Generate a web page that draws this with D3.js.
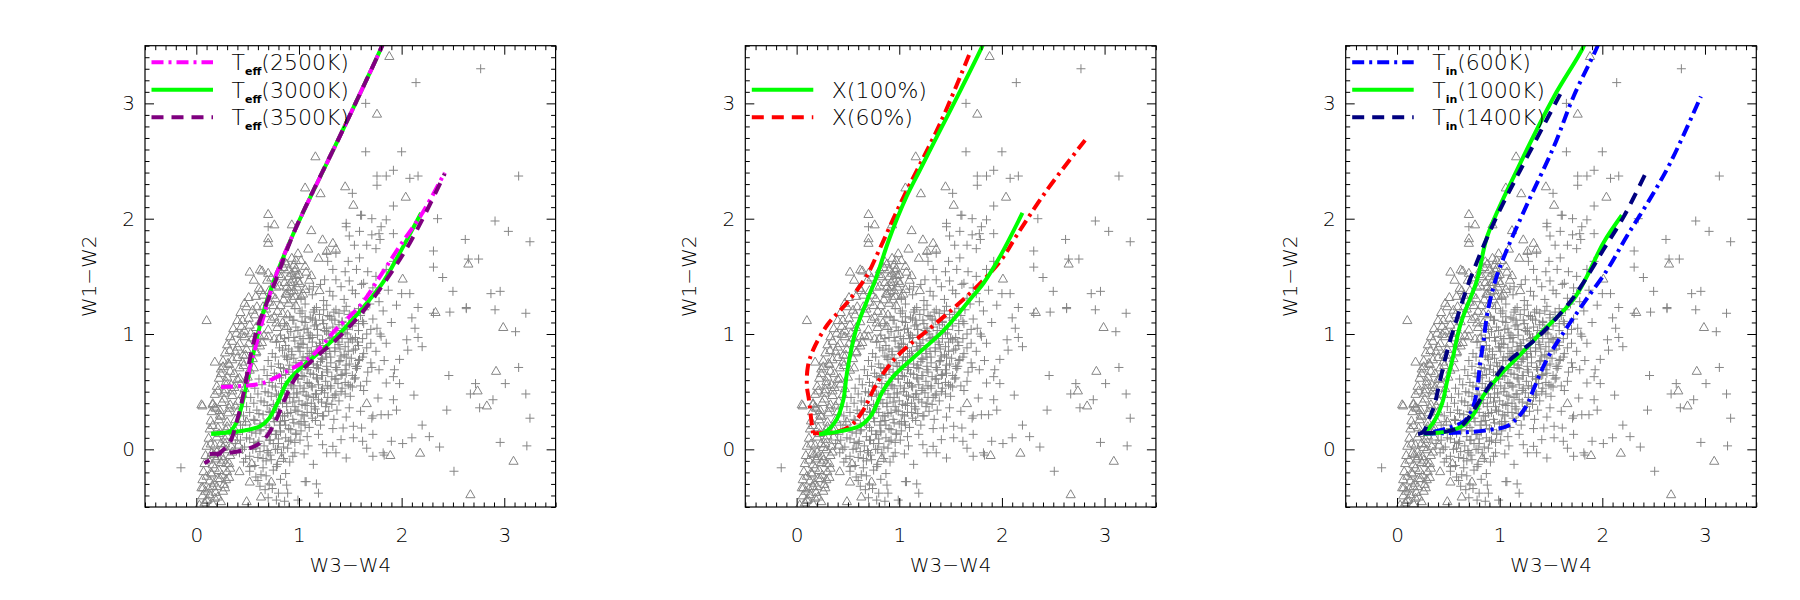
<!DOCTYPE html>
<html>
<head>
<meta charset="utf-8">
<script src="https://cdn.jsdelivr.net/npm/d3@7"></script>
<style>
  body { margin: 0; background: #fff; }
  svg { display: block; }
  text { font-family: "DejaVu Sans", sans-serif; font-weight: 200; fill: #000; }
</style>
</head>
<body>
<script>
/**
 * DATA
 */
const majorTicks = [0, 1, 2, 3];
const xLabel = "W3\u2212W4";
const yLabel = "W1\u2212W2";

// scatter: "+" sources
const plusSparse = [
  [2.77,3.30],[2.14,3.18],[1.65,3.00],[1.65,2.58],[2.00,2.58],[1.76,2.37],[1.85,2.37],[1.92,2.42],[1.76,2.29],
  [2.08,2.35],[2.16,2.37],[3.14,2.37],[1.52,2.22],[1.60,2.03],[1.71,2.00],[1.85,1.99],[1.80,1.93],[1.78,1.87],
  [2.35,2.00],[0.70,1.93],[1.46,1.93],[2.91,1.98],[3.04,1.89],[2.62,1.82],[2.31,1.72],[2.31,1.58],[2.40,1.49],
  [2.75,1.65],[2.65,1.65],[3.25,1.80],[2.50,1.37],[2.08,1.35],[2.00,1.35],[2.87,1.35],[2.96,1.37],[2.63,1.23],
  [2.16,1.23],[2.47,1.19],[3.21,1.18],[2.10,1.14],[2.31,1.18],[2.63,1.22],[2.91,1.21],[2.13,1.05],[2.16,0.97],
  [3.11,1.02],[2.05,0.95],[2.06,0.86],[2.20,0.89],[3.14,0.71],[2.46,0.64],[2.72,0.57],[3.01,0.57],[2.67,0.48],
  [3.21,0.48],[2.12,0.47],[2.76,0.36],[2.89,0.43],[2.44,0.34],[3.25,0.27],[2.20,0.21],[2.01,0.05],[2.10,0.10],
  [2.27,0.11],[2.37,0.02],[2.96,0.06],[3.22,0.03],[2.51,-0.19],[1.83,-0.05],[1.72,-0.06],[-0.15,-0.16],[0.89,-0.38],
  [0.99,-0.44],[1.07,-0.28],[1.17,-0.30],[1.19,-0.38],[1.92,0.63],[1.85,0.575],[1.77,0.445],[1.71,0.27],[1.87,0.30],
  [1.62,0.07],[1.53,0.10],[1.41,0.084],[1.33,0.026],[1.23,0.04],[1.14,-0.13],[1.06,-0.28],[1.82,-0.03],[1.90,0.07],
  [1.36,-0.03],[1.46,-0.075],[0.96,-0.03],[0.88,-0.31],[0.78,-0.44],[1.61,2.03],[1.92,2.11],[1.46,1.96],[1.59,1.89],
  [1.49,1.85],[1.71,1.86],[1.79,1.82],[1.92,1.87],[1.54,1.77],[1.66,1.77],[1.75,1.74],[1.27,1.70],[1.36,1.70],
  [1.28,1.63],[1.48,1.63],[1.59,1.66],[1.33,1.56],[1.45,1.54],[1.56,1.56],[1.67,1.54],[1.75,1.50],[1.85,1.56],
  [1.92,1.63],[1.25,1.47],[1.36,1.47],[1.49,1.46],[1.61,1.43],[1.87,1.38],[1.75,1.35],[1.14,1.41],[1.15,1.21],
  [1.79,1.00],[1.85,0.92],[1.93,0.69],[1.98,0.57],[1.92,0.43],[1.72,0.29],[1.80,0.30],[1.95,0.34],[1.72,0.13],
  [1.66,0.01],[1.95,1.25],[1.90,1.10],[1.98,0.78],[1.53,0.20],[1.43,0.185],[1.61,0.185],[1.27,-0.03]
];

const plusCore = [
  [1.10,1.39],[1.21,1.43],[1.30,1.37],[1.41,1.41],[1.52,1.38],[1.63,1.44],[1.72,1.40],
  [1.02,1.31],[1.13,1.34],[1.24,1.29],[1.33,1.33],[1.44,1.30],[1.55,1.35],[1.66,1.31],[1.78,1.28],
  [0.96,1.22],[1.06,1.26],[1.17,1.23],[1.27,1.25],[1.36,1.21],[1.46,1.24],[1.58,1.22],[1.69,1.26],[1.82,1.20],
  [0.91,1.15],[1.01,1.18],[1.11,1.14],[1.20,1.17],[1.30,1.15],[1.39,1.18],[1.49,1.14],[1.60,1.16],[1.72,1.13],
  [0.86,1.09],[0.97,1.06],[1.06,1.10],[1.15,1.07],[1.24,1.09],[1.33,1.06],[1.42,1.10],[1.52,1.07],[1.63,1.09],[1.76,1.05],
  [0.82,0.99],[0.92,1.02],[1.01,0.98],[1.09,1.01],[1.18,0.99],[1.27,1.02],[1.36,0.98],[1.45,1.01],[1.55,0.97],[1.66,1.00],[1.80,0.98],
  [0.78,0.93],[0.87,0.90],[0.96,0.94],[1.04,0.91],[1.13,0.93],[1.21,0.90],[1.30,0.94],[1.39,0.91],[1.48,0.93],[1.58,0.90],[1.70,0.92],
  [0.74,0.83],[0.84,0.86],[0.93,0.82],[1.01,0.85],[1.10,0.83],[1.18,0.86],[1.26,0.83],[1.35,0.85],[1.44,0.82],[1.53,0.86],[1.63,0.83],[1.75,0.85],
  [0.70,0.77],[0.80,0.74],[0.89,0.78],[0.97,0.75],[1.06,0.77],[1.14,0.74],[1.23,0.78],[1.31,0.75],[1.40,0.77],[1.49,0.74],[1.59,0.78],[1.70,0.75],[1.83,0.77],
  [0.66,0.69],[0.76,0.66],[0.85,0.70],[0.94,0.67],[1.02,0.69],[1.11,0.66],[1.19,0.70],[1.28,0.67],[1.37,0.69],[1.46,0.66],[1.56,0.70],[1.67,0.67],[1.78,0.69],
  [0.61,0.61],[0.71,0.58],[0.81,0.62],[0.90,0.59],[0.99,0.61],[1.08,0.58],[1.17,0.62],[1.26,0.59],[1.35,0.61],[1.45,0.58],[1.55,0.62],[1.66,0.59],
  [0.57,0.53],[0.67,0.50],[0.77,0.54],[0.86,0.51],[0.95,0.53],[1.04,0.50],[1.13,0.54],[1.22,0.51],[1.31,0.53],[1.41,0.50],[1.52,0.54],[1.63,0.51],
  [0.53,0.45],[0.63,0.42],[0.73,0.46],[0.82,0.43],[0.91,0.45],[1.00,0.42],[1.09,0.46],[1.19,0.43],[1.28,0.45],[1.39,0.42],[1.50,0.46],
  [0.49,0.37],[0.59,0.34],[0.69,0.38],[0.78,0.35],[0.88,0.37],[0.97,0.34],[1.06,0.38],[1.16,0.35],[1.26,0.37],[1.37,0.34],[1.49,0.36],[1.60,0.33],
  [0.46,0.29],[0.56,0.26],[0.65,0.30],[0.75,0.27],[0.84,0.29],[0.94,0.26],[1.03,0.30],[1.13,0.27],[1.23,0.29],[1.34,0.26],[1.46,0.28],
  [0.43,0.21],[0.52,0.18],[0.62,0.22],[0.71,0.19],[0.81,0.21],[0.90,0.18],[1.00,0.22],[1.10,0.19],[1.21,0.21],[1.33,0.18],
  [0.40,0.13],[0.49,0.10],[0.58,0.14],[0.68,0.11],[0.77,0.13],[0.87,0.10],[0.97,0.14],[1.08,0.11],[1.19,0.13],
  [0.38,0.05],[0.47,0.02],[0.56,0.06],[0.66,0.03],[0.75,0.05],[0.85,0.02],[0.96,0.06],[1.09,0.03],
  [0.42,-0.03],[0.52,-0.06],[0.62,-0.02],[0.72,-0.05],[0.83,-0.03],[0.94,-0.06],[1.05,-0.04],
  [0.46,-0.11],[0.57,-0.14],[0.68,-0.10],[0.79,-0.13],[0.91,-0.11],
  [0.52,-0.19],[0.63,-0.22],[0.75,-0.18],[0.87,-0.21],[0.60,-0.27],[0.71,-0.30],[0.67,-0.35],[0.80,-0.38],
  [0.95,1.12],[1.05,1.04],[1.16,1.12],[1.25,1.03],[1.35,1.12],[1.44,1.05],[0.90,0.97],[1.00,0.88],[1.10,0.96],
  [1.20,0.87],[1.30,0.96],[1.40,0.87],[1.50,0.96],[0.88,0.80],[0.98,0.72],[1.08,0.80],[1.17,0.71],[1.27,0.80],
  [1.36,0.71],[1.46,0.80],[1.55,0.72],[0.83,0.64],[0.93,0.55],[1.03,0.64],[1.12,0.55],[1.22,0.64],[1.31,0.55],
  [1.41,0.64],[1.50,0.55],[0.78,0.48],[0.88,0.40],[0.98,0.48],[1.08,0.40],[1.17,0.48],[1.27,0.40],[1.36,0.48],
  [0.72,0.32],[0.82,0.24],[0.92,0.32],[1.02,0.24],[1.12,0.32],[0.62,0.16],[0.72,0.08],[0.82,0.16],[0.92,0.08],
  [0.55,0.00],[0.65,-0.08],[0.77,0.00]
];

const plusInner = [
  [1.03,1.20],[1.14,1.19],[1.24,1.21],[1.34,1.19],[1.44,1.20],[1.54,1.19],[1.64,1.21],
  [0.94,1.12],[1.03,1.11],[1.13,1.13],[1.23,1.12],[1.32,1.13],[1.42,1.11],[1.52,1.12],[1.62,1.11],
  [0.89,1.04],[0.99,1.03],[1.08,1.05],[1.18,1.04],[1.27,1.05],[1.37,1.03],[1.47,1.04],[1.58,1.03],[1.70,1.04],
  [0.86,0.96],[0.95,0.97],[1.04,0.96],[1.13,0.97],[1.23,0.95],[1.32,0.97],[1.42,0.96],[1.52,0.95],[1.62,0.96],
  [0.81,0.88],[0.90,0.87],[0.99,0.89],[1.08,0.88],[1.17,0.89],[1.26,0.87],[1.35,0.88],[1.45,0.89],[1.55,0.87],[1.66,0.88],
  [0.77,0.80],[0.86,0.81],[0.95,0.79],[1.04,0.80],[1.13,0.81],[1.22,0.79],[1.31,0.80],[1.41,0.81],[1.51,0.79],[1.62,0.80],
  [0.73,0.72],[0.82,0.71],[0.91,0.73],[1.00,0.72],[1.09,0.71],[1.18,0.73],[1.27,0.72],[1.36,0.71],[1.46,0.73],[1.57,0.72],[1.71,0.71],
  [0.69,0.64],[0.78,0.63],[0.87,0.65],[0.96,0.64],[1.05,0.63],[1.14,0.65],[1.23,0.64],[1.32,0.63],[1.42,0.65],[1.52,0.64],
  [0.64,0.56],[0.74,0.55],[0.83,0.57],[0.92,0.56],[1.01,0.55],[1.10,0.57],[1.19,0.56],[1.28,0.55],[1.38,0.57],[1.48,0.56],[1.60,0.55],
  [0.60,0.48],[0.70,0.49],[0.80,0.47],[0.89,0.48],[0.98,0.49],[1.07,0.47],[1.16,0.48],[1.25,0.49],[1.35,0.47],[1.45,0.48],
  [0.56,0.40],[0.66,0.41],[0.75,0.39],[0.84,0.40],[0.94,0.41],[1.03,0.39],[1.12,0.40],[1.22,0.41],[1.32,0.39],
  [0.52,0.32],[0.61,0.31],[0.71,0.33],[0.80,0.32],[0.89,0.31],[0.99,0.33],[1.08,0.32],[1.18,0.31],[1.29,0.33],
  [0.48,0.24],[0.57,0.25],[0.66,0.23],[0.76,0.24],[0.86,0.25],[0.95,0.23],[1.05,0.24],[1.16,0.25],
  [0.45,0.16],[0.54,0.15],[0.63,0.17],[0.73,0.16],[0.82,0.15],[0.92,0.17],[1.02,0.16],
  [0.43,0.08],[0.52,0.09],[0.61,0.07],[0.71,0.08],[0.80,0.09],[0.90,0.07],[1.01,0.08],
  [0.45,0.00],[0.58,0.01],[0.69,-0.01],[0.79,0.00],[0.89,0.01],
  [0.48,-0.08],[0.60,-0.07],[0.73,-0.09],[0.85,-0.08],[0.52,-0.15],[0.65,-0.16],[0.78,-0.15],[0.58,-0.24],
  [0.68,-0.23],[0.82,-0.26],[0.62,-0.32],[0.74,-0.34],[0.70,-0.42],[0.86,-0.45]
];

// darkest part of the "+" cloud
const plusDense = [
  [1.06,1.15],[1.17,1.08],[1.28,1.16],[1.39,1.08],[1.49,1.17],[1.58,1.09],
  [1.02,0.92],[1.11,0.99],[1.20,0.92],[1.29,1.00],[1.38,0.93],[1.47,1.00],[1.57,0.93],
  [0.93,0.85],[1.03,0.77],[1.12,0.85],[1.21,0.76],[1.30,0.85],[1.39,0.76],[1.48,0.85],[1.58,0.77],
  [0.90,0.69],[0.99,0.61],[1.08,0.69],[1.18,0.61],[1.27,0.69],[1.36,0.61],[1.45,0.69],[1.54,0.61],
  [0.86,0.53],[0.95,0.45],[1.05,0.53],[1.14,0.45],[1.23,0.53],[1.33,0.45],[1.42,0.53],
  [0.77,0.37],[0.86,0.29],[0.96,0.37],[1.05,0.29],[1.15,0.37],[1.24,0.29],
  [0.68,0.21],[0.78,0.13],[0.87,0.21],[0.97,0.13],[1.06,0.21],[0.60,0.05],[0.70,-0.03],[0.80,0.05]
];

// scatter: triangle sources
const triSparse = [
  [1.88,3.41],[1.76,2.91],[1.16,2.54],[1.45,2.28],[1.06,2.27],[1.21,2.22],[1.53,2.12],[2.04,2.19],[0.70,2.04],
  [0.76,1.95],[0.93,1.95],[2.65,1.61],[2.01,1.48],[2.33,1.19],[2.99,1.06],[0.10,1.12],[2.92,0.68],[2.74,0.51],
  [2.83,0.38],[2.18,-0.03],[3.09,-0.10],[2.67,-0.39],[1.89,-0.05],[0.18,0.76],[0.06,0.38],[0.16,0.39],[1.66,0.40],
  [0.63,-0.41],[0.49,-0.45],[0.73,-0.28],[0.52,-0.28],[0.83,-0.075],[1.12,1.90],[0.70,1.83],[1.23,1.82],[1.33,1.79],
  [0.70,1.79],[0.99,1.70],[1.09,1.74],[1.19,1.66],[1.27,1.72],[1.36,1.74],[0.52,1.54],[0.62,1.56],[0.70,1.53],
  [0.81,1.56],[0.93,1.53],[0.97,1.57],[1.06,1.59],[1.12,1.51],[1.20,1.38],[0.78,1.41],[0.88,1.41],[0.96,1.33],
  [1.04,1.35],[0.58,1.33],[0.65,1.24],[0.75,1.25],[0.84,1.18],[0.97,1.25],[0.49,1.24],[0.45,1.12],[0.52,1.08],
  [0.39,1.01],[0.47,0.98],[0.62,0.98],[0.70,0.98],[0.81,0.965],[0.88,1.07],[0.76,1.15],[0.63,1.38],[0.88,1.61],
  [0.97,1.64],[0.585,0.92],[0.42,0.92],[0.31,0.75],[0.26,0.72],[0.34,0.56],[0.28,0.52],[0.42,0.62],[0.05,0.39],
  [0.18,0.37],[0.23,0.30],[0.15,-0.03],[0.24,0.055],[0.19,-0.08],[0.29,-0.12],[0.15,-0.21],[0.23,-0.25],[0.32,-0.24],
  [0.065,-0.33],[0.16,-0.32],[0.26,-0.36],[0.10,-0.44],[0.18,-0.42],[0.455,0.82],[0.585,0.85],[0.325,0.86],[0.41,0.04],
  [0.36,0.16],[0.49,0.24],[0.54,-0.12],[0.42,-0.19],[0.29,0.0]
];

const triCore = [
  [0.86,1.63],[0.95,1.60],[1.02,1.64],[0.64,1.55],[0.80,1.52],[0.90,1.56],[0.98,1.51],[1.07,1.54],
  [0.56,1.47],[0.73,1.49],[0.86,1.45],[0.94,1.48],[1.01,1.44],[1.10,1.47],[0.61,1.40],[0.71,1.38],[0.81,1.42],
  [0.91,1.37],[0.98,1.41],[1.06,1.39],[0.51,1.32],[0.65,1.34],[0.77,1.31],[0.87,1.35],[0.94,1.30],[1.02,1.33],
  [0.47,1.27],[0.59,1.24],[0.71,1.28],[0.82,1.25],[0.90,1.27],[0.43,1.19],[0.55,1.21],[0.67,1.18],[0.79,1.20],
  [0.89,1.17],[0.40,1.12],[0.51,1.14],[0.62,1.11],[0.73,1.13],[0.84,1.10],[0.36,1.05],[0.47,1.03],[0.58,1.06],
  [0.70,1.04],[0.79,1.06],[0.33,0.98],[0.44,1.00],[0.55,0.97],[0.66,0.99],[0.76,0.96],[0.30,0.91],[0.40,0.89],
  [0.51,0.92],[0.62,0.90],[0.28,0.84],[0.38,0.85],[0.48,0.82],[0.58,0.84],[0.26,0.77],[0.35,0.78],[0.45,0.76],
  [0.55,0.79],[0.24,0.70],[0.33,0.68],[0.42,0.71],[0.52,0.69],[0.22,0.62],[0.30,0.63],[0.40,0.61],[0.50,0.63],
  [0.20,0.55],[0.29,0.56],[0.37,0.54],[0.18,0.48],[0.27,0.49],[0.35,0.47],[0.45,0.48],[0.16,0.40],[0.25,0.41],
  [0.33,0.39],[0.15,0.33],[0.23,0.34],[0.31,0.32],[0.40,0.33],[0.14,0.25],[0.22,0.26],[0.30,0.24],[0.13,0.18],
  [0.21,0.19],[0.29,0.17],[0.37,0.18],[0.12,0.10],[0.20,0.11],[0.28,0.09],[0.10,0.03],[0.18,0.04],[0.26,0.02],
  [0.34,0.03],[0.09,-0.05],[0.17,-0.04],[0.25,-0.06],[0.33,-0.05],[0.08,-0.12],[0.16,-0.13],[0.24,-0.11],
  [0.32,-0.12],[0.07,-0.19],[0.14,-0.20],[0.22,-0.18],[0.30,-0.19],[0.06,-0.26],[0.13,-0.27],[0.21,-0.25],
  [0.29,-0.26],[0.05,-0.33],[0.12,-0.34],[0.20,-0.32],[0.28,-0.33],[0.06,-0.40],[0.13,-0.39],[0.21,-0.41],
  [0.08,-0.46],[0.16,-0.47],[0.24,-0.45]
];

const triInner = [
  [0.03,-0.48],[0.11,-0.43],[0.19,-0.37],[0.27,-0.30],[0.09,-0.36],[0.17,-0.29],[0.25,-0.22],[0.33,-0.16],
  [0.10,-0.23],[0.18,-0.16],[0.26,-0.09],[0.35,-0.02],[0.12,-0.09],[0.20,-0.02],[0.28,0.05],[0.36,0.11],
  [0.14,0.05],[0.22,0.14],[0.30,0.20],[0.38,0.26],[0.16,0.21],[0.24,0.29],[0.32,0.36],[0.41,0.42],
  [0.19,0.36],[0.27,0.44],[0.35,0.51],[0.43,0.57],[0.21,0.51],[0.29,0.59],[0.37,0.66],[0.46,0.73],
  [0.24,0.66],[0.32,0.74],[0.40,0.80],[0.49,0.87],[0.35,0.94],[0.44,1.07],[0.53,1.01],[0.57,1.17],
  [0.68,1.22],[0.74,1.34],[0.85,1.30],[0.69,1.47],[0.83,1.50],[0.92,1.45],[0.88,1.35],[0.95,1.38],
  [1.00,1.52],[0.78,1.10],[0.64,0.93],[0.56,0.71],[0.47,0.53],[0.38,0.38],[0.30,0.12],[0.21,-0.06],
  [0.90,1.50],[0.96,1.55],[0.92,1.41],[0.99,1.46],[0.85,1.58],[0.93,1.66]
];

// Panel 1 : Teff models (steep + shallow branch each)
const teff2500Steep = [[1.83,3.55],[1.81,3.50],[1.46,2.83],[0.96,1.90],[0.76,1.47],[0.67,1.20],[0.58,0.90],[0.52,0.70],[0.49,0.56]];
const teff2500Shallow = [[0.24,0.54],[0.455,0.55],[0.65,0.575],[0.91,0.69],[1.14,0.82],[1.36,1.04],[1.60,1.25],[1.79,1.50],[1.98,1.76],[2.21,2.06],[2.42,2.40]];
const teff3000Steep = [[1.83,3.55],[1.81,3.50],[1.46,2.83],[0.96,1.90],[0.76,1.47],[0.67,1.24],[0.57,0.89],[0.50,0.60],[0.44,0.37],[0.39,0.23],[0.325,0.156],[0.22,0.138],[0.146,0.136]];
const teff3000Shallow = [[0.146,0.136],[0.42,0.156],[0.62,0.20],[0.71,0.27],[0.80,0.42],[0.88,0.575],[1.01,0.70],[1.17,0.82],[1.38,0.99],[1.69,1.30],[1.82,1.45],[1.98,1.70],[2.19,2.05]];
const teff3500Steep = [[1.83,3.55],[1.81,3.50],[1.46,2.83],[0.96,1.90],[0.75,1.41],[0.62,1.12],[0.54,0.86],[0.49,0.63],[0.44,0.40],[0.39,0.23],[0.325,0.055],[0.23,-0.03],[0.08,-0.12]];
const teff3500Shallow = [[0.13,-0.04],[0.325,-0.03],[0.49,0.0],[0.62,0.055],[0.70,0.13],[0.78,0.26],[0.86,0.43],[0.975,0.63],[1.14,0.78],[1.35,0.94],[1.53,1.10],[1.69,1.27],[1.92,1.56],[2.08,1.79],[2.24,2.06],[2.42,2.39]];

// Panel 2 : X models
const x100Steep = [[1.83,3.55],[1.81,3.50],[1.60,3.12],[1.40,2.77],[1.20,2.42],[1.07,2.19],[0.90,1.82],[0.78,1.50],[0.69,1.30],[0.57,1.01],[0.49,0.66],[0.455,0.43],[0.39,0.26],[0.29,0.156],[0.22,0.13]];
const x100Shallow = [[0.22,0.13],[0.42,0.156],[0.62,0.205],[0.73,0.30],[0.83,0.49],[0.94,0.63],[1.17,0.82],[1.43,1.03],[1.69,1.30],[1.82,1.44],[1.98,1.67],[2.20,2.05]];
const x60Steep = [[1.68,3.42],[1.40,2.83],[1.01,2.13],[0.80,1.72],[0.68,1.50],[0.50,1.28],[0.30,1.08],[0.16,0.86],[0.11,0.72],[0.10,0.55],[0.12,0.43],[0.146,0.23],[0.16,0.14]];
const x60Shallow = [[0.16,0.14],[0.36,0.147],[0.52,0.20],[0.65,0.34],[0.75,0.52],[0.845,0.66],[1.01,0.835],[1.30,1.05],[1.55,1.24],[1.80,1.45],[2.00,1.65],[2.14,1.85],[2.44,2.25],[2.81,2.68]];

// Panel 3 : Tin models
const tin600Steep = [[1.96,3.52],[1.95,3.49],[1.72,3.06],[1.53,2.63],[1.27,2.13],[1.07,1.73],[0.96,1.47],[0.88,1.18],[0.845,0.95],[0.81,0.75],[0.78,0.52],[0.73,0.34],[0.65,0.24],[0.55,0.20],[0.42,0.165],[0.26,0.136]];
const tin600Shallow = [[0.26,0.136],[0.65,0.147],[0.91,0.17],[1.07,0.20],[1.17,0.27],[1.27,0.39],[1.33,0.52],[1.46,0.78],[1.62,1.01],[1.82,1.27],[2.05,1.56],[2.24,1.85],[2.45,2.15],[2.66,2.48],[2.96,3.06]];
const tin1000Steep = [[1.83,3.55],[1.82,3.50],[1.53,3.06],[1.20,2.48],[0.88,1.85],[0.78,1.47],[0.62,1.09],[0.54,0.78],[0.49,0.60],[0.44,0.40],[0.36,0.24],[0.26,0.136]];
const tin1000Shallow = [[0.26,0.136],[0.49,0.156],[0.65,0.21],[0.75,0.31],[0.845,0.47],[1.01,0.65],[1.20,0.82],[1.38,0.99],[1.72,1.30],[1.85,1.50],[2.01,1.79],[2.19,2.03]];
const tin1400Steep = [[1.59,3.08],[1.20,2.42],[0.94,1.96],[0.71,1.47],[0.60,1.18],[0.50,0.89],[0.42,0.60],[0.36,0.37],[0.31,0.26],[0.26,0.156],[0.22,0.136],[0.146,0.136]];
const tin1400Shallow = [[0.26,0.14],[0.49,0.156],[0.62,0.20],[0.71,0.29],[0.81,0.43],[0.94,0.60],[1.07,0.75],[1.33,0.94],[1.46,1.05],[1.67,1.26],[1.79,1.41],[2.01,1.73],[2.21,2.02],[2.42,2.39]];

/**
 * LAYOUT
 */
const WIDTH = 1800;
const HEIGHT = 600;
const PANEL_LEFTS = [145, 745.3, 1345.7];
const PANEL_W = 410.6;
const TOP = 45.7;
const BOTTOM = 507;
const MAJOR = 9;
const MINOR = 4.5;
const LINE_W = 4;
const GRAY = "#858585";
const DASHED = "12,8";
const DASHDOT = "12,5,3,5";

const panels = [
  {
    series: [
      { data: teff3000Steep, color: "#00ff00", dash: null },
      { data: teff3000Shallow, color: "#00ff00", dash: null },
      { data: teff2500Steep, color: "#ff00ff", dash: DASHDOT },
      { data: teff2500Shallow, color: "#ff00ff", dash: DASHDOT },
      { data: teff3500Steep, color: "#7f007f", dash: DASHED },
      { data: teff3500Shallow, color: "#7f007f", dash: DASHED },
    ],
    legend: [
      { row: 0, color: "#ff00ff", dash: DASHDOT, main: "T", sub: "eff", rest: "(2500K)" },
      { row: 1, color: "#00ff00", dash: null, main: "T", sub: "eff", rest: "(3000K)" },
      { row: 2, color: "#7f007f", dash: DASHED, main: "T", sub: "eff", rest: "(3500K)" },
    ],
  },
  {
    series: [
      { data: x60Steep, color: "#ff0000", dash: DASHDOT },
      { data: x60Shallow, color: "#ff0000", dash: DASHDOT },
      { data: x100Steep, color: "#00ff00", dash: null },
      { data: x100Shallow, color: "#00ff00", dash: null },
    ],
    legend: [
      { row: 1, color: "#00ff00", dash: null, main: "X(100%)", sub: "", rest: "" },
      { row: 2, color: "#ff0000", dash: DASHED, main: "X(60%)", sub: "", rest: "" },
    ],
  },
  {
    series: [
      { data: tin600Steep, color: "#0000ff", dash: DASHDOT },
      { data: tin600Shallow, color: "#0000ff", dash: DASHDOT },
      { data: tin1000Steep, color: "#00ff00", dash: null },
      { data: tin1000Shallow, color: "#00ff00", dash: null },
      { data: tin1400Steep, color: "#000080", dash: DASHED },
      { data: tin1400Shallow, color: "#000080", dash: DASHED },
    ],
    legend: [
      { row: 0, color: "#0000ff", dash: DASHDOT, main: "T", sub: "in", rest: "(600K)" },
      { row: 1, color: "#00ff00", dash: null, main: "T", sub: "in", rest: "(1000K)" },
      { row: 2, color: "#000080", dash: DASHED, main: "T", sub: "in", rest: "(1400K)" },
    ],
  },
];

const minorTicks = d3.range(-5, 36).map((d) => d / 10).filter((d) => Math.abs(d - Math.round(d)) > 1e-6);

const svg = d3.select("body").append("svg").attr("width", WIDTH).attr("height", HEIGHT);

const plusPath = "M-4.5,0H4.5M0,-4.5V4.5";
const triPath = "M0,-4.6L4.6,3.4L-4.6,3.4Z";

const drawPanel = (p, i) => {
  const left = PANEL_LEFTS[i];
  const x = d3.scaleLinear().domain([-0.5, 3.5]).range([left, left + PANEL_W]);
  const y = d3.scaleLinear().domain([-0.5, 3.5]).range([BOTTOM, TOP]);
  const g = svg.append("g");

  const clipId = `clip${i}`;
  svg.append("clipPath").attr("id", clipId)
    .append("rect").attr("x", left).attr("y", TOP).attr("width", PANEL_W).attr("height", BOTTOM - TOP);

  const plot = g.append("g").attr("clip-path", `url(#${clipId})`);

  // scatter
  const allPlus = plusSparse.concat(plusCore, plusInner, plusDense);
  const allTri = triSparse.concat(triCore, triInner);
  plot.append("g").selectAll("path").data(allPlus).join("path")
    .attr("d", plusPath)
    .attr("transform", (d) => `translate(${x(d[0])},${y(d[1])})`)
    .attr("fill", "none").attr("stroke", GRAY).attr("stroke-width", 1);
  plot.append("g").selectAll("path").data(allTri).join("path")
    .attr("d", triPath)
    .attr("transform", (d) => `translate(${x(d[0])},${y(d[1])})`)
    .attr("fill", "none").attr("stroke", GRAY).attr("stroke-width", 1);

  // model tracks
  const line = d3.line().x((d) => x(d[0])).y((d) => y(d[1])).curve(d3.curveCatmullRom.alpha(0.5));
  plot.append("g").selectAll("path").data(p.series).join("path")
    .attr("d", (s) => line(s.data))
    .attr("fill", "none")
    .attr("stroke", (s) => s.color)
    .attr("stroke-width", LINE_W)
    .attr("stroke-dasharray", (s) => s.dash);

  // axes: ticks on all four sides, pointing inward
  const addAxis = (axis, tx, ty, values, size, labels) => {
    const a = g.append("g").attr("transform", `translate(${tx},${ty})`)
      .call(axis.tickValues(values).tickSize(-size).tickPadding(labels ? labels : 0)
        .tickFormat(labels ? d3.format("d") : ""));
    a.select(".domain").remove();
    a.selectAll("line").attr("stroke", "#000").attr("stroke-width", 1);
    a.selectAll("text").attr("font-size", 20).attr("font-family", null);
    return a;
  };
  addAxis(d3.axisBottom(x), 0, BOTTOM, majorTicks, MAJOR, 21);
  addAxis(d3.axisBottom(x), 0, BOTTOM, minorTicks, MINOR, 0);
  addAxis(d3.axisTop(x), 0, TOP, majorTicks, MAJOR, 0);
  addAxis(d3.axisTop(x), 0, TOP, minorTicks, MINOR, 0);
  addAxis(d3.axisLeft(y), left, 0, majorTicks, MAJOR, 10);
  addAxis(d3.axisLeft(y), left, 0, minorTicks, MINOR, 0);
  addAxis(d3.axisRight(y), left + PANEL_W, 0, majorTicks, MAJOR, 0);
  addAxis(d3.axisRight(y), left + PANEL_W, 0, minorTicks, MINOR, 0);

  g.append("rect")
    .attr("x", left).attr("y", TOP).attr("width", PANEL_W).attr("height", BOTTOM - TOP)
    .attr("fill", "none").attr("stroke", "#000").attr("stroke-width", 1.2);

  // axis titles
  g.append("text")
    .attr("x", left + PANEL_W / 2).attr("y", 572)
    .attr("text-anchor", "middle").attr("font-size", 20)
    .text(xLabel);
  g.append("text")
    .attr("transform", `translate(${left - 49},${(TOP + BOTTOM) / 2}) rotate(-90)`)
    .attr("text-anchor", "middle").attr("font-size", 20)
    .text(yLabel);

  // legend
  const leg = g.append("g");
  const rowY = (r) => 62.3 + r * 27.5;
  leg.selectAll("line").data(p.legend).join("line")
    .attr("x1", left + 6.5).attr("x2", left + 68)
    .attr("y1", (d) => rowY(d.row)).attr("y2", (d) => rowY(d.row))
    .attr("stroke", (d) => d.color).attr("stroke-width", LINE_W)
    .attr("stroke-dasharray", (d) => d.dash);
  const t = leg.selectAll("text").data(p.legend).join("text")
    .attr("x", left + 86.5).attr("y", (d) => rowY(d.row) + 7.8)
    .attr("font-size", 22);
  t.append("tspan").text((d) => d.main);
  t.append("tspan").attr("dy", 5).attr("font-size", 11).attr("font-weight", 700).text((d) => d.sub);
  t.append("tspan").attr("dy", -5).text((d) => d.rest);
};

panels.forEach(drawPanel);
</script>
</body>
</html>
